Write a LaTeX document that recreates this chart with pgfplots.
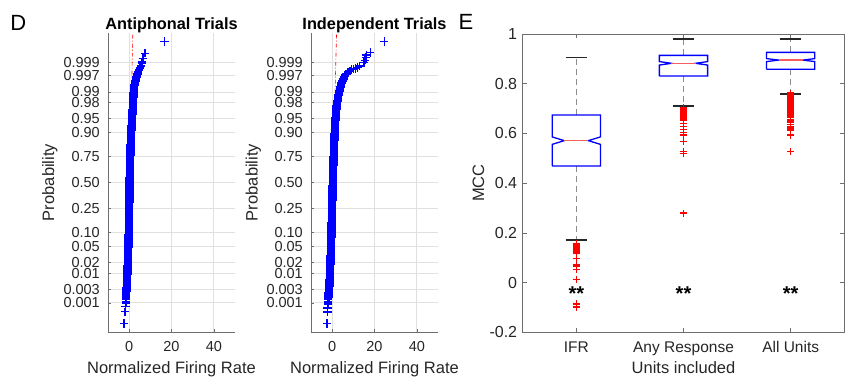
\documentclass[border=0pt]{standalone}
\usepackage{pgfplots}
\usepackage{pgfplotstable}
\pgfplotsset{compat=1.18}
\usepackage{fontspec}
\setmainfont{Liberation Sans}

\definecolor{axgray}{RGB}{38,38,38}
\definecolor{linegray}{RGB}{110,110,110}
\definecolor{gridgray}{RGB}{224,224,224}
\definecolor{mblue}{RGB}{0,0,255}
\definecolor{mred}{RGB}{255,0,0}
\definecolor{medred}{RGB}{245,95,95}

% normal probability plots: firing rate x against normal quantile z
% dense central part of the antiphonal sample
\pgfplotstableread{
x z
-1.60 -3.08
-1.55 -3.00
-1.50 -2.94
-1.45 -2.88
-1.40 -2.83
-1.35 -2.79
-1.30 -2.75
-1.20 -2.70
-1.15 -2.65
-1.10 -2.60
-1.05 -2.55
-1.00 -2.50
-0.95 -2.45
-0.90 -2.40
-0.86 -2.35
-0.83 -2.30
-0.79 -2.25
-0.75 -2.20
-0.71 -2.15
-0.68 -2.10
-0.64 -2.05
-0.60 -2.00
-0.57 -1.95
-0.54 -1.90
-0.51 -1.85
-0.48 -1.80
-0.44 -1.75
-0.41 -1.70
-0.38 -1.65
-0.35 -1.60
-0.33 -1.55
-0.30 -1.50
-0.28 -1.45
-0.25 -1.40
-0.23 -1.35
-0.20 -1.30
-0.18 -1.25
-0.15 -1.20
-0.13 -1.15
-0.11 -1.10
-0.09 -1.05
-0.08 -1.00
-0.06 -0.95
-0.04 -0.90
-0.02 -0.85
0.00 -0.80
0.01 -0.75
0.03 -0.70
0.04 -0.65
0.05 -0.60
0.06 -0.55
0.08 -0.50
0.09 -0.45
0.10 -0.40
0.11 -0.35
0.13 -0.30
0.14 -0.25
0.15 -0.20
0.16 -0.15
0.18 -0.10
0.19 -0.05
0.20 0.00
0.22 0.05
0.24 0.10
0.26 0.15
0.28 0.20
0.29 0.25
0.31 0.30
0.33 0.35
0.35 0.40
0.38 0.45
0.41 0.50
0.44 0.55
0.48 0.60
0.51 0.65
0.54 0.70
0.57 0.75
0.60 0.80
0.64 0.85
0.68 0.90
0.71 0.95
0.75 1.00
0.79 1.05
0.83 1.10
0.86 1.15
0.90 1.20
0.95 1.25
1.00 1.30
1.05 1.35
1.10 1.40
1.15 1.45
1.20 1.50
1.25 1.55
1.30 1.60
1.36 1.65
1.43 1.70
1.49 1.75
1.55 1.80
1.61 1.85
1.68 1.90
1.74 1.95
1.80 2.00
1.85 2.05
1.90 2.10
1.95 2.15
2.00 2.20
2.05 2.25
2.10 2.30
2.15 2.35
2.20 2.40
2.38 2.45
2.55 2.50
2.73 2.55
2.90 2.60
3.18 2.65
3.45 2.70
3.70 2.75
3.95 2.79
4.20 2.83
4.60 2.88
5.10 2.94
5.60 3.00
6.05 3.08
}\antiphonalcore

% sparse tails of the antiphonal sample
\pgfplotstableread{
x z
-2.35 -3.62
-1.95 -3.32
-1.80 -3.18
6.50 3.18
7.50 3.32
16.60 3.62
}\antiphonaltail

% dense central part of the independent sample
\pgfplotstableread{
x z
-1.95 -3.08
-1.85 -3.00
-1.78 -2.94
-1.70 -2.88
-1.64 -2.83
-1.58 -2.79
-1.55 -2.75
-1.40 -2.70
-1.35 -2.65
-1.30 -2.60
-1.25 -2.55
-1.20 -2.50
-1.15 -2.45
-1.10 -2.40
-1.06 -2.35
-1.03 -2.30
-0.99 -2.25
-0.95 -2.20
-0.91 -2.15
-0.88 -2.10
-0.84 -2.05
-0.80 -2.00
-0.76 -1.95
-0.73 -1.90
-0.69 -1.85
-0.65 -1.80
-0.61 -1.75
-0.58 -1.70
-0.54 -1.65
-0.50 -1.60
-0.48 -1.55
-0.45 -1.50
-0.43 -1.45
-0.40 -1.40
-0.38 -1.35
-0.35 -1.30
-0.33 -1.25
-0.30 -1.20
-0.28 -1.15
-0.25 -1.10
-0.23 -1.05
-0.20 -1.00
-0.18 -0.95
-0.15 -0.90
-0.13 -0.85
-0.10 -0.80
-0.08 -0.75
-0.05 -0.70
-0.03 -0.65
0.00 -0.60
0.03 -0.55
0.05 -0.50
0.08 -0.45
0.10 -0.40
0.13 -0.35
0.15 -0.30
0.18 -0.25
0.20 -0.20
0.23 -0.15
0.25 -0.10
0.28 -0.05
0.30 0.00
0.33 0.05
0.35 0.10
0.38 0.15
0.40 0.20
0.43 0.25
0.45 0.30
0.48 0.35
0.50 0.40
0.54 0.45
0.58 0.50
0.61 0.55
0.65 0.60
0.69 0.65
0.73 0.70
0.76 0.75
0.80 0.80
0.84 0.85
0.88 0.90
0.91 0.95
0.95 1.00
0.99 1.05
1.03 1.10
1.06 1.15
1.10 1.20
1.15 1.25
1.20 1.30
1.25 1.35
1.30 1.40
1.35 1.45
1.40 1.50
1.45 1.55
1.50 1.60
1.59 1.65
1.68 1.70
1.76 1.75
1.85 1.80
1.94 1.85
2.03 1.90
2.11 1.95
2.20 2.00
2.35 2.05
2.50 2.10
2.65 2.15
2.80 2.20
3.00 2.25
3.20 2.30
3.40 2.35
3.60 2.40
3.90 2.45
4.20 2.50
4.50 2.55
4.80 2.60
5.27 2.65
5.73 2.70
6.20 2.75
6.80 2.79
7.60 2.83
8.40 2.86
}\independentcore

% sparse tails of the independent sample
\pgfplotstableread{
x z
-2.50 -3.62
-2.25 -3.33
-2.20 -3.22
-2.05 -3.14
9.20 2.90
10.00 2.91
10.90 2.93
12.00 2.95
12.80 2.99
15.00 3.08
15.50 3.14
16.00 3.21
16.30 3.27
18.00 3.34
24.60 3.62
}\independenttail

\pgfplotsset{
  normplot/.style={
    scale only axis, width=127pt, height=299pt,
    xmin=-10, xmax=50, ymin=-3.84, ymax=3.84,
    axis x line*=bottom, axis y line*=left,
    axis line style={-, draw=linegray, line width=0.8pt},
    tick align=inside, major tick length=3pt,
    tick style={linegray, line width=0.6pt},
    grid=major, major grid style={gridgray, line width=0.7pt},
    xtick={0,20,40}, xticklabels={0,20,40},
    ytick={-3.0902,-2.7478,-2.3263,-2.0537,-1.6449,-1.2816,-0.6745,0,0.6745,1.2816,1.6449,2.0537,2.3263,2.7478,3.0902},
    yticklabels={0.001,0.003,0.01,0.02,0.05,0.10,0.25,0.50,0.75,0.90,0.95,0.98,0.99,0.997,0.999},
    ticklabel style={font=\fontsize{14.5}{15}\selectfont, text=axgray, inner sep=0pt},
    yticklabel style={anchor=east, xshift=-8pt},
    xticklabel style={anchor=base, yshift=-19.7pt},
    xlabel={Normalized Firing Rate}, ylabel={Probability},
    label style={font=\fontsize{16.5}{18}\selectfont, text=axgray, inner sep=0pt},
    xlabel style={at={(axis description cs:0.5,0)}, anchor=base, yshift=-41.3pt},
    title style={font=\bfseries\fontsize{16.3}{18}\selectfont, inner sep=0pt,
      at={(axis description cs:0.5,1)}, anchor=base, yshift=-2.7pt},
  },
  coremarks/.style={only marks, mark=+, mark size=4.2pt,
    mark options={draw=mblue, fill=mblue, line width=2.2pt, solid}},
  tailmarks/.style={only marks, mark=+, mark size=4.2pt,
    mark options={draw=mblue, fill=mblue, line width=1.4pt, solid}},
  refline/.style={draw=mred, line width=0.6pt,
    dash pattern=on 4pt off 2pt on 1pt off 2pt},
  whisk/.style={draw=black!45, line width=1.1pt, dash pattern=on 6pt off 4pt},
  cap/.style={draw=axgray, line width=1.2pt},
  boxl/.style={draw=mblue, line width=1.3pt},
  medl/.style={draw=medred, line width=1.5pt},
  outl/.style={only marks, mark=+, mark size=3.6pt,
    mark options={draw=mred, fill=mred, line width=1.5pt, solid}},
}

\begin{document}
\begin{tikzpicture}
\useasboundingbox (0,0) rectangle (849pt,387pt);

% panel letters
\node[font=\fontsize{22}{24}\selectfont, inner sep=0pt] at (18.3pt,364.5pt) {D};
\node[font=\fontsize{22}{24}\selectfont, inner sep=0pt] at (466pt,365.5pt) {E};

% D: antiphonal trials (reference line runs from the median up)
\begin{axis}[normplot, at={(108pt,55pt)}, anchor=south west,
  title={Antiphonal Trials},
  ylabel style={at={(axis description cs:-0.457,0.5)}, anchor=center}]
  \addplot[refline] coordinates {(0.20,0) (1.74,3.84)};
  \addplot[coremarks] table[x=x, y=z] {\antiphonalcore};
  \addplot[tailmarks] table[x=x, y=z] {\antiphonaltail};
\end{axis}

% D: independent trials
\begin{axis}[normplot, at={(311pt,55pt)}, anchor=south west,
  title={Independent Trials},
  ylabel style={at={(axis description cs:-0.454,0.5)}, anchor=center}]
  \addplot[refline] coordinates {(0.30,0) (2.07,3.84)};
  \addplot[coremarks] table[x=x, y=z] {\independentcore};
  \addplot[tailmarks] table[x=x, y=z] {\independenttail};
\end{axis}

% E: MCC by units included
\begin{axis}[at={(522.7pt,54.7pt)}, anchor=south west,
  scale only axis, width=321.6pt, height=298.3pt,
  xmin=0.5, xmax=3.5, ymin=-0.2, ymax=1,
  axis line style={draw=linegray, line width=0.8pt},
  tick align=inside, major tick length=4pt,
  tick style={linegray, line width=0.6pt},
  xtick={1,2,3}, xticklabels={IFR,Any Response,All Units},
  ytick={-0.2,0,0.2,0.4,0.6,0.8,1},
  yticklabels={-0.2,0,0.2,0.4,0.6,0.8,1},
  ticklabel style={text=axgray, inner sep=0pt},
  yticklabel style={font=\fontsize{16}{17}\selectfont, anchor=east, xshift=-5.4pt},
  xticklabel style={font=\fontsize{15.5}{17}\selectfont, anchor=base, yshift=-20pt},
  xlabel={Units included}, ylabel={MCC},
  label style={font=\fontsize{16.5}{18}\selectfont, text=axgray, inner sep=0pt},
  xlabel style={at={(axis description cs:0.5,0)}, anchor=base, yshift=-41pt},
  ylabel style={at={(axis description cs:-0.138,0.5)}, anchor=center},
]
  % whiskers
  \addplot[whisk] coordinates {(1,0.674) (1,0.905)};
  \addplot[whisk] coordinates {(1,0.469) (1,0.171)};
  \addplot[whisk] coordinates {(2,0.914) (2,0.980)};
  \addplot[whisk] coordinates {(2,0.831) (2,0.710)};
  \addplot[whisk] coordinates {(3,0.926) (3,0.980)};
  \addplot[whisk] coordinates {(3,0.858) (3,0.759)};
  % whisker caps
  \addplot[cap] coordinates {(0.9,0.905) (1.1,0.905)};
  \addplot[cap] coordinates {(0.9,0.171) (1.1,0.171)};
  \addplot[cap] coordinates {(1.9,0.980) (2.1,0.980)};
  \addplot[cap] coordinates {(1.9,0.710) (2.1,0.710)};
  \addplot[cap] coordinates {(2.9,0.980) (3.1,0.980)};
  \addplot[cap] coordinates {(2.9,0.759) (3.1,0.759)};
  % notched boxes
  \addplot[boxl] coordinates {(0.775,0.469) (0.775,0.556) (0.8875,0.571) (0.775,0.586) (0.775,0.674)
    (1.225,0.674) (1.225,0.586) (1.1125,0.571) (1.225,0.556) (1.225,0.469) (0.775,0.469)};
  \addplot[boxl] coordinates {(1.775,0.831) (1.775,0.875) (1.8875,0.882) (1.775,0.889) (1.775,0.914)
    (2.225,0.914) (2.225,0.889) (2.1125,0.882) (2.225,0.875) (2.225,0.831) (1.775,0.831)};
  \addplot[boxl] coordinates {(2.775,0.858) (2.775,0.889) (2.8875,0.895) (2.775,0.901) (2.775,0.926)
    (3.225,0.926) (3.225,0.901) (3.1125,0.895) (3.225,0.889) (3.225,0.858) (2.775,0.858)};
  % medians
  \addplot[medl] coordinates {(0.8875,0.571) (1.1125,0.571)};
  \addplot[medl] coordinates {(1.8875,0.882) (2.1125,0.882)};
  \addplot[medl] coordinates {(2.8875,0.895) (3.1125,0.895)};
  % outliers
  \addplot[outl] coordinates {(1,0.158) (1,0.153) (1,0.148) (1,0.143) (1,0.138) (1,0.133)
    (1,0.128) (1,0.123) (1,0.118) (1,0.097) (1,0.070) (1,0.064) (1,0.053) (1,0.013)
    (1,-0.086) (1,-0.099)};
  \addplot[outl] coordinates {(2,0.703) (2,0.698) (2,0.693) (2,0.688) (2,0.683) (2,0.678)
    (2,0.673) (2,0.668) (2,0.663) (2,0.658) (2,0.652) (2,0.640) (2,0.627) (2,0.615)
    (2,0.603) (2,0.594) (2,0.567) (2,0.527) (2,0.520) (2,0.279)};
  \addplot[outl] coordinates {(3,0.762) (3,0.757) (3,0.752) (3,0.747) (3,0.742) (3,0.737)
    (3,0.732) (3,0.727) (3,0.722) (3,0.717) (3,0.712) (3,0.706) (3,0.700) (3,0.694)
    (3,0.688) (3,0.682) (3,0.676) (3,0.670) (3,0.664) (3,0.657) (3,0.650) (3,0.643)
    (3,0.636) (3,0.628) (3,0.621) (3,0.614) (3,0.594) (3,0.527)};
  % significance marks
  \node[font=\bfseries\fontsize{20}{22}\selectfont, inner sep=0pt, anchor=base] at (axis cs:1,-0.073) {**};
  \node[font=\bfseries\fontsize{20}{22}\selectfont, inner sep=0pt, anchor=base] at (axis cs:2,-0.073) {**};
  \node[font=\bfseries\fontsize{20}{22}\selectfont, inner sep=0pt, anchor=base] at (axis cs:3,-0.073) {**};
\end{axis}
\end{tikzpicture}
\end{document}
